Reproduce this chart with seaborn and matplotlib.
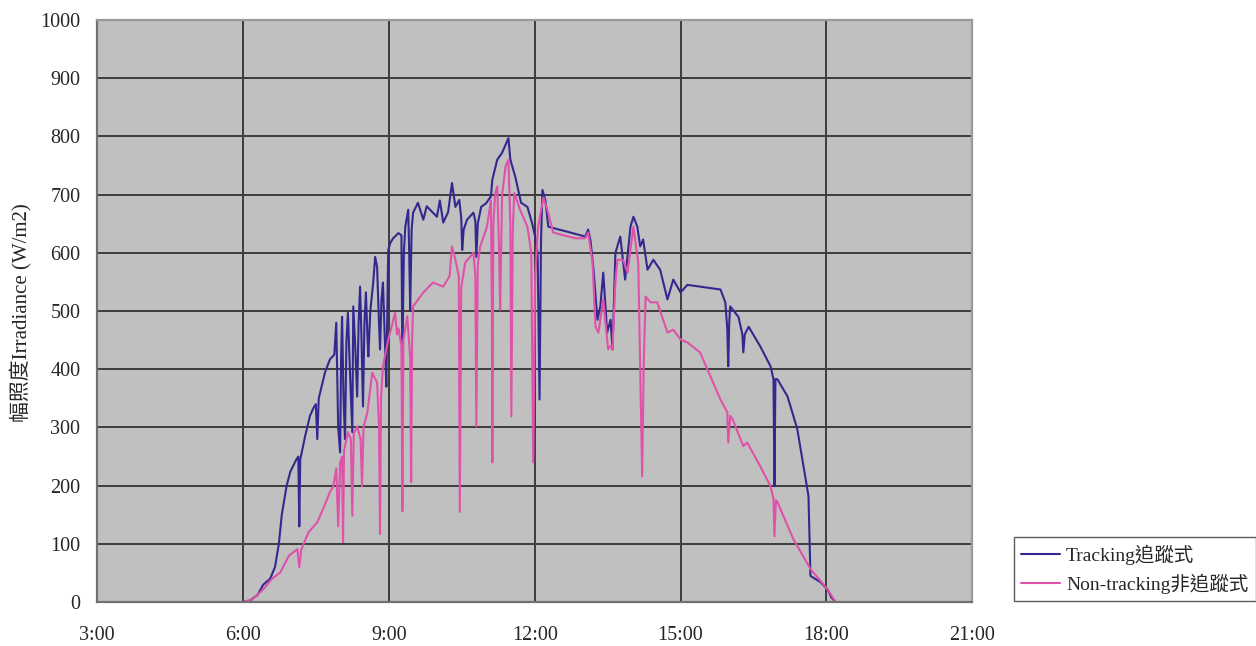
import matplotlib
matplotlib.use("Agg")
import matplotlib.pyplot as plt
import pandas as pd
import seaborn as sns

# time of day in hours, irradiance in W/m2
tracking_hour = [
    3.00, 6.00, 6.15, 6.30, 6.42, 6.56, 6.66, 6.74, 6.80, 6.90, 6.98, 7.10, 7.14, 7.16, 7.18,
    7.28, 7.38, 7.46, 7.50, 7.53, 7.56, 7.69, 7.79, 7.88,
    7.92, 7.96, 8.00, 8.02, 8.04, 8.07, 8.10, 8.13, 8.16, 8.20, 8.25, 8.27, 8.31, 8.35, 8.38,
    8.41, 8.44, 8.47, 8.50, 8.53, 8.56, 8.58, 8.62, 8.68, 8.72, 8.76, 8.79, 8.82, 8.85, 8.88,
    8.92, 8.95, 8.98, 8.99, 9.03, 9.09, 9.20, 9.26, 9.28, 9.31, 9.34, 9.40, 9.42, 9.44, 9.47,
    9.50, 9.60, 9.71, 9.78, 9.85, 9.99, 10.05, 10.12, 10.22, 10.30, 10.37, 10.45, 10.49, 10.51,
    10.54, 10.61, 10.74, 10.78, 10.80, 10.83, 10.90, 11.00, 11.10, 11.13, 11.23, 11.33, 11.46,
    11.50, 11.60, 11.72, 11.85, 11.95, 12.01, 12.06, 12.10, 12.13, 12.16, 12.22, 12.28, 12.50,
    12.73, 12.95, 13.04, 13.10, 13.15, 13.21, 13.29, 13.35, 13.41, 13.49, 13.56, 13.60, 13.66,
    13.76, 13.86, 13.97, 14.03, 14.11, 14.17, 14.23, 14.32, 14.44, 14.58, 14.73, 14.85, 15.00,
    15.14, 15.40, 15.82, 15.92, 15.96, 15.98, 16.00, 16.02, 16.19, 16.27, 16.29, 16.32, 16.40,
    16.64, 16.85, 16.91, 16.93, 16.95, 16.99, 17.20, 17.40, 17.63, 17.67, 17.88, 18.02, 18.10,
    18.19, 21.00,
]
tracking_value = [
    0, 0, 3, 12, 30, 40, 60, 100, 150, 200, 225, 245, 250, 130, 245,
    285, 320, 335, 340, 280, 350, 395, 417, 425,
    480, 300, 257, 420, 490, 350, 280, 450, 497, 400, 292, 508, 440, 353, 480,
    542, 450, 336, 480, 532, 460, 422, 500, 549, 593, 576, 500, 434, 520, 549,
    450, 370, 560, 605, 617, 625, 634, 630, 417, 600, 645, 674, 600, 502, 640,
    669, 686, 657, 680, 674, 662, 690, 652, 670, 720, 679, 691, 660, 605,
    640, 657, 669, 655, 593, 650, 679, 685, 697, 726, 760, 772, 797,
    760, 731, 686, 679, 650, 628, 600, 348, 620, 708, 690, 645, 640,
    635, 630, 628, 640, 620, 571, 485, 508, 566, 463, 485, 434, 600,
    628, 554, 645, 662, 645, 611, 623, 571, 588, 571, 520, 554, 532,
    545, 542, 537, 515, 470, 405, 480, 508, 490, 460, 429, 460, 473,
    439, 405, 383, 199, 383, 383, 353, 297, 182, 45, 34, 22, 8,
    0, 0,
]

fixed_hour = [
    3.00, 6.00, 6.20, 6.42, 6.60, 6.77, 6.95, 7.12, 7.16, 7.20, 7.35, 7.53, 7.70, 7.79, 7.86,
    7.92, 7.96, 8.00, 8.04, 8.06, 8.08, 8.16, 8.22, 8.25, 8.28, 8.35, 8.42, 8.45, 8.48, 8.56,
    8.66, 8.76, 8.80, 8.82, 8.84, 8.88, 8.99, 9.13, 9.17, 9.20, 9.26, 9.28, 9.30, 9.38, 9.44,
    9.46, 9.48, 9.50, 9.71, 9.91, 10.12, 10.25, 10.30, 10.37, 10.44, 10.46, 10.49, 10.57,
    10.74, 10.78, 10.80, 10.83, 10.88, 11.02, 11.10, 11.12, 11.13, 11.15, 11.19, 11.23, 11.27,
    11.29, 11.33, 11.40, 11.46, 11.50, 11.52, 11.55, 11.58, 11.70, 11.85, 11.93, 11.97, 12.01,
    12.07, 12.18, 12.26, 12.38, 12.60, 12.85, 13.04, 13.10, 13.19, 13.25, 13.31, 13.41, 13.51,
    13.56, 13.60, 13.66, 13.70, 13.82, 13.91, 14.03, 14.13, 14.17, 14.21, 14.24, 14.28, 14.38,
    14.52, 14.73, 14.85, 15.00, 15.14, 15.40, 15.55, 15.82, 15.96, 15.98, 16.02, 16.07, 16.29,
    16.37, 16.64, 16.85, 16.91, 16.93, 16.96, 16.99, 17.32, 17.67, 18.02, 18.19, 21.00,
]
fixed_value = [
    0, 0, 5, 22, 40, 51, 80, 91, 60, 90, 120, 137, 170, 189, 199,
    230, 130, 240, 250, 103, 260, 292, 280, 148, 290, 302, 280, 199, 300, 326,
    394, 377, 300, 117, 350, 405, 451, 497, 460, 470, 440, 156, 450, 491, 420,
    206, 450, 508, 532, 549, 542, 560, 611, 588, 560, 155, 540, 583,
    600, 560, 302, 580, 611, 645, 690, 500, 240, 650, 703, 714, 600,
    502, 700, 748, 760, 650, 319, 640, 703, 674, 645, 600, 240, 560,
    645, 695, 674, 635, 630, 625, 625, 635, 583, 473, 463, 520, 434,
    440, 434, 550, 588, 588, 566, 645, 583, 400, 216, 400, 525, 515,
    515, 463, 468, 451, 446, 429, 400, 348, 326, 274, 320, 314, 268,
    274, 233, 199, 177, 113, 175, 172, 108, 57, 22, 0, 0,
]

series_labels = ["Tracking追蹤式", "Non-tracking非追蹤式"]
series_colors = ["#33288f", "#e052aa"]
x_ticks = [3, 6, 9, 12, 15, 18, 21]
x_tick_labels = ["3:00", "6:00", "9:00", "12:00", "15:00", "18:00", "21:00"]
y_ticks = list(range(0, 1001, 100))

sns.set_style("whitegrid")
plt.rcParams["font.family"] = ["Liberation Serif", "Noto Sans CJK TC", "DejaVu Sans"]

df_track = pd.DataFrame({"hour": tracking_hour, "irr": tracking_value})
df_fixed = pd.DataFrame({"hour": fixed_hour, "irr": fixed_value})

fig = plt.figure(figsize=(12.56, 6.46), dpi=100)
ax = fig.add_axes([0.0772, 0.068, 0.697, 0.901])
ax.set_facecolor("#c0c0c0")

sns.lineplot(data=df_track, x="hour", y="irr", ax=ax, color=series_colors[0],
             linewidth=1.5, estimator=None, sort=False, label=series_labels[0])
sns.lineplot(data=df_fixed, x="hour", y="irr", ax=ax, color=series_colors[1],
             linewidth=1.5, estimator=None, sort=False, label=series_labels[1])

ax.set_xlim(3, 21)
ax.set_ylim(0, 1000)
ax.set_xticks(x_ticks)
ax.set_xticklabels(x_tick_labels)
ax.set_yticks(y_ticks)
ax.grid(True, color="#3c3c3c", linewidth=1.4)
ax.set_axisbelow(True)
ax.tick_params(axis="x", length=0, pad=17, labelsize=14.5)
ax.tick_params(axis="y", length=0, pad=12, labelsize=14.5)
ax.set_xlabel("")
ax.set_ylabel("幅照度Irradiance (W/m2)", fontsize=15)
ax.yaxis.set_label_coords(-0.074, 0.497)
for side, spine in ax.spines.items():
    spine.set_visible(True)
    spine.set_color("#707070" if side in ("left", "bottom") else "#9a9a9a")
    spine.set_linewidth(1.6)

ax.get_legend().remove()
handles, labels = ax.get_legend_handles_labels()
leg = fig.legend(handles, labels, loc="lower left", bbox_to_anchor=(0.807, 0.069),
                 fontsize=14, frameon=True, fancybox=False, handlelength=2.0,
                 handletextpad=0.3, borderpad=0.4, labelspacing=0.45, borderaxespad=0)
leg.get_frame().set_edgecolor("#333333")
leg.get_frame().set_linewidth(1.0)

fig.savefig("out.png", dpi=100)
